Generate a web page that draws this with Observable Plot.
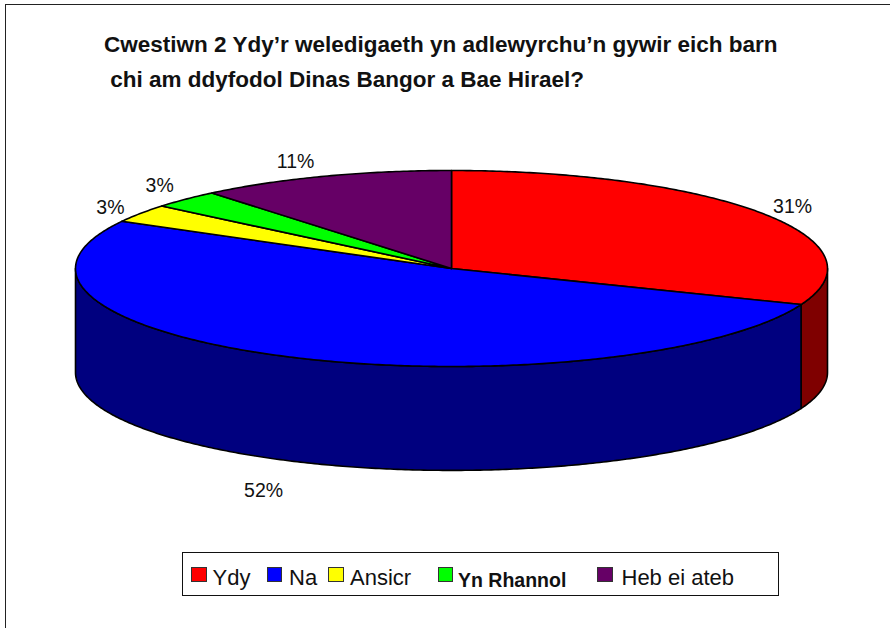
<!DOCTYPE html>
<html><head><meta charset="utf-8">
<script src="https://cdn.jsdelivr.net/npm/d3@7"></script>
<script src="https://cdn.jsdelivr.net/npm/@observablehq/plot@0.6"></script>
<style>
html,body{margin:0;padding:0;background:#fff;overflow:hidden;}
#page{position:absolute;left:0;top:0;width:890px;height:628px;overflow:hidden;font-family:"Liberation Sans",Arial,sans-serif;color:#111;}
#frame{position:absolute;left:5px;top:4px;width:900px;height:640px;border-left:1.5px solid #222;border-top:1.5px solid #222;box-sizing:border-box;}
#title{position:absolute;left:104px;top:27px;font-weight:bold;font-size:22.5px;line-height:35px;white-space:pre;}
#plot{position:absolute;left:0;top:0;width:890px;}
#plot svg{display:block;max-width:none;}
#box{position:absolute;left:182px;top:552px;width:597px;height:44px;border:1.4px solid #111;box-sizing:border-box;}
.i{position:absolute;top:563px;line-height:30px;white-space:pre;font-size:22px;}
.s{position:absolute;top:566.5px;width:15.5px;height:15.5px;border:1.6px solid #333;box-sizing:border-box;}
</style></head><body>
<div id="page">
<div id="frame"></div>
<div id="title"></div>
<div id="plot"></div>
<div id="box"></div>
</div>
<script>
const titleLines = ["Cwestiwn 2 Ydy\u2019r weledigaeth yn adlewyrchu\u2019n gywir eich barn", " chi am ddyfodol Dinas Bangor a Bae Hirael?"];
const categories = ["Ydy", "Na", "Ansicr", "Yn Rhannol", "Heb ei ateb"];
const values = [31, 52, 3, 3, 11];
const colors = ["#ff0000", "#0000ff", "#ffff00", "#00ff00", "#660066"];
const sideColors = ["#7f0000", "#00007f", "#7f7f00", "#007f00", "#330033"];
const labelShiftX = [0.08, -0.074, -0.08, -0.069, -0.076];
const labelShiftY = [0.07, -0.30, 0.06, 0.133, 0.153];
const depth = 1.06;
const legendSwatchX = [191, 266.5, 328, 437.5, 597];
const legendTextX = [212.5, 289, 350, 458, 621.5];

const pie = d3.pie().sort(null).startAngle(0).endAngle(2 * Math.PI)(values);
const pt = (a, drop = 0) => ({x: Math.sin(a), y: Math.cos(a) - drop});
const arcRange = (a0, a1) => {
  const n = Math.max(2, Math.ceil((a1 - a0) / 0.01));
  return d3.range(n + 1).map(k => a0 + (a1 - a0) * k / n);
};
const face = pie.flatMap((s, i) => [
  {x: 0, y: 0, name: categories[i]},
  ...arcRange(s.startAngle, s.endAngle).map(a => ({...pt(a), name: categories[i]}))
]);
// Visible wall: the part of each slice's rim on the near half of the ellipse
const wall = pie.flatMap((s, i) => {
  const a0 = Math.max(s.startAngle, Math.PI / 2), a1 = Math.min(s.endAngle, 3 * Math.PI / 2);
  if (a1 <= a0) return [];
  const as = arcRange(a0, a1);
  return [...as.map(a => ({...pt(a), i})), ...as.slice().reverse().map(a => ({...pt(a, depth), i}))];
});
const labels = pie.map((s, i) => {
  const m = (s.startAngle + s.endAngle) / 2;
  const p = pt(m, Math.cos(m) < 0 ? depth : 0);
  return {x: p.x + labelShiftX[i], y: p.y + labelShiftY[i], t: values[i] + "%"};
});

const chart = Plot.plot({
  width: 890, height: 540, margin: 0,
  x: {domain: [-1, 1], range: [75, 827], axis: null},
  y: {domain: [1, -1], range: [170, 366], axis: null},
  color: {domain: categories, range: colors},
  style: {background: "transparent", overflow: "visible"},
  marks: [
    ...sideColors.map((c, i) => Plot.line(wall.filter(d => d.i === i), {
      x: "x", y: "y", fill: c, stroke: "#000", strokeWidth: 1.6, curve: "linear-closed"
    })),
    Plot.line(face, {x: "x", y: "y", z: "name", fill: "name", stroke: "#000", strokeWidth: 1.6, curve: "linear-closed"}),
    Plot.text(labels, {x: "x", y: "y", text: "t", fontSize: 19.5, fontFamily: "Liberation Sans", fill: "#111"})
  ]
});
document.getElementById("plot").appendChild(chart);
document.getElementById("title").textContent = titleLines.join("\n");
const page = document.getElementById("page");
categories.forEach((c, i) => {
  const s = document.createElement("div"); s.className = "s";
  s.style.left = legendSwatchX[i] + "px"; s.style.background = colors[i];
  const t = document.createElement("div"); t.className = "i"; t.textContent = c;
  t.style.left = legendTextX[i] + "px";
  if (c === "Yn Rhannol") { t.style.fontWeight = "bold"; t.style.fontSize = "19.5px"; t.style.top = "564.5px"; }
  page.append(s, t);
});
</script>
</body></html>
